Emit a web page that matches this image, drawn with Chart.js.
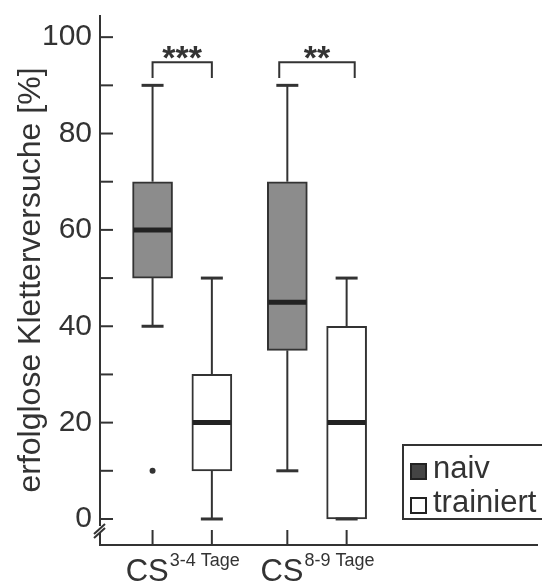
<!DOCTYPE html>
<html>
<head>
<meta charset="utf-8">
<script src="https://cdn.jsdelivr.net/npm/chart.js@4.4.1/dist/chart.umd.min.js"></script>
<style>
  body { margin: 0; background: #fff; }
  canvas { display: block; }
</style>
</head>
<body>
<canvas id="chart" width="542" height="585"></canvas>
<script>
// groups along the x axis
const groups = ['3-4 Tage', '8-9 Tage'];
const significance = ['***', '**'];

// naiv
const naivMin = [40, 10];
const naivQ1 = [50, 35];
const naivMedian = [60, 45];
const naivQ3 = [70, 70];
const naivMax = [90, 90];
const naivOutliers = [[10], []];

// trainiert
const trainiertMin = [0, 0];
const trainiertQ1 = [10, 0];
const trainiertMedian = [20, 20];
const trainiertQ3 = [30, 40];
const trainiertMax = [50, 50];
const trainiertOutliers = [[], []];

const yTickValues = [0, 10, 20, 30, 40, 50, 60, 70, 80, 90, 100];
const yTickLabels = ['0', '', '20', '', '40', '', '60', '', '80', '', '100'];

const INK = '#333';
const FONT = '"Liberation Sans", Arial, sans-serif';
const groupPos = [1, 2];
const boxOffset = 0.22;
const bracketHalf = [0.22, 0.28];

const series = [
  { name: 'naiv', fill: '#8c8c8c', legendFill: '#444', offset: -boxOffset,
    min: naivMin, q1: naivQ1, med: naivMedian, q3: naivQ3, max: naivMax, out: naivOutliers },
  { name: 'trainiert', fill: '#ffffff', legendFill: '#ffffff', offset: boxOffset,
    min: trainiertMin, q1: trainiertQ1, med: trainiertMedian, q3: trainiertQ3, max: trainiertMax, out: trainiertOutliers }
];

const datasets = series.map(s => ({
  type: 'bar',
  label: s.name,
  data: groups.map((g, i) => ({ x: groupPos[i] + s.offset, y: [s.q1[i], s.q3[i]] })),
  backgroundColor: s.fill,
  borderColor: INK,
  borderWidth: 2,
  borderSkipped: false,
  barThickness: 40,
  grouped: false,
  order: 2
}));

series.forEach(s => {
  const pts = [];
  s.out.forEach((list, i) => list.forEach(v => pts.push({ x: groupPos[i] + s.offset, y: v })));
  datasets.push({
    type: 'scatter',
    label: s.name + ' Ausreißer',
    data: pts,
    pointRadius: 3,
    backgroundColor: INK,
    borderWidth: 0,
    order: 1
  });
});

function line(ctx, x1, y1, x2, y2) {
  ctx.beginPath();
  ctx.moveTo(x1, y1);
  ctx.lineTo(x2, y2);
  ctx.stroke();
}

const boxExtras = {
  id: 'boxExtras',
  afterDatasetsDraw(chart) {
    const ctx = chart.ctx;
    const x = chart.scales.x, y = chart.scales.y;
    const area = chart.chartArea;
    ctx.save();
    ctx.strokeStyle = INK;
    ctx.lineCap = 'butt';

    // whiskers and medians
    series.forEach(s => {
      groups.forEach((g, i) => {
        const px = x.getPixelForValue(groupPos[i] + s.offset);
        ctx.lineWidth = 2;
        if (s.max[i] > s.q3[i]) line(ctx, px, y.getPixelForValue(s.q3[i]), px, y.getPixelForValue(s.max[i]));
        if (s.min[i] < s.q1[i]) line(ctx, px, y.getPixelForValue(s.q1[i]), px, y.getPixelForValue(s.min[i]));
        ctx.lineWidth = 3;
        line(ctx, px - 11, y.getPixelForValue(s.max[i]), px + 11, y.getPixelForValue(s.max[i]));
        line(ctx, px - 11, y.getPixelForValue(s.min[i]), px + 11, y.getPixelForValue(s.min[i]));
        ctx.lineWidth = 5;
        ctx.strokeStyle = '#222';
        line(ctx, px - 19, y.getPixelForValue(s.med[i]), px + 19, y.getPixelForValue(s.med[i]));
        ctx.strokeStyle = INK;
      });
    });

    // axes
    ctx.lineWidth = 2;
    const left = area.left, bottom = area.bottom;
    line(ctx, left, area.top, left, bottom - 19);
    line(ctx, left, bottom - 12, left, bottom);
    line(ctx, left - 1, bottom, area.right, bottom);
    line(ctx, left - 6, bottom - 7, left + 5, bottom - 17);
    line(ctx, left - 6, bottom - 11, left + 5, bottom - 21);
    yTickValues.forEach(v => {
      const py = y.getPixelForValue(v);
      line(ctx, left, py, left + 13, py);
    });
    series.forEach(s => groups.forEach((g, i) => {
      const px = x.getPixelForValue(groupPos[i] + s.offset);
      line(ctx, px, bottom, px, bottom - 15);
    }));

    // x labels: CS with superscript
    ctx.fillStyle = INK;
    ctx.textBaseline = 'alphabetic';
    groups.forEach((g, i) => {
      const cx = x.getPixelForValue(groupPos[i]);
      ctx.font = '31px ' + FONT;
      const w1 = ctx.measureText('CS').width;
      ctx.font = '18px ' + FONT;
      const w2 = ctx.measureText(g).width;
      const start = cx - (w1 + w2) / 2;
      ctx.font = '31px ' + FONT;
      ctx.textAlign = 'left';
      ctx.fillText('CS', start, bottom + 36);
      ctx.font = '18px ' + FONT;
      ctx.fillText(g, start + w1 + 1, bottom + 21);
    });

    // significance brackets
    ctx.lineWidth = 2;
    groups.forEach((g, i) => {
      const xl = x.getPixelForValue(groupPos[i] - bracketHalf[i]);
      const xr = x.getPixelForValue(groupPos[i] + bracketHalf[i]);
      const yb = y.getPixelForValue(94.8);
      const yl = y.getPixelForValue(91.5);
      ctx.beginPath();
      ctx.moveTo(xl, yl);
      ctx.lineTo(xl, yb);
      ctx.lineTo(xr, yb);
      ctx.lineTo(xr, yl);
      ctx.stroke();
      ctx.font = 'bold 34px ' + FONT;
      ctx.textAlign = 'center';
      ctx.fillText(significance[i], (xl + xr) / 2, yb + 7);
    });

    // legend
    ctx.fillStyle = '#fff';
    ctx.fillRect(403, 445, 150, 74);
    ctx.strokeRect(403, 445, 150, 74);
    ctx.textAlign = 'left';
    ctx.font = '31px ' + FONT;
    series.forEach((s, k) => {
      const top = 464 + k * 34;
      ctx.fillStyle = s.legendFill;
      ctx.fillRect(411, top, 15, 15);
      ctx.strokeStyle = '#222';
      ctx.strokeRect(411, top, 15, 15);
      ctx.fillStyle = INK;
      ctx.fillText(s.name, 433, top + 14);
    });
    ctx.restore();
  }
};

new Chart(document.getElementById('chart'), {
  type: 'bar',
  data: { datasets: datasets },
  options: {
    responsive: false,
    animation: false,
    devicePixelRatio: 1,
    layout: { padding: { top: 15, bottom: 40, right: 0, left: 0 } },
    plugins: { legend: { display: false }, tooltip: { enabled: false } },
    scales: {
      x: {
        type: 'linear',
        display: false,
        offset: false,
        min: 0.39,
        max: 3.64
      },
      y: {
        min: -5.4,
        max: 104.6,
        afterFit: s => { s.width = 100; s.paddingTop = 0; s.paddingBottom = 0; },
        afterBuildTicks: s => { s.ticks = yTickValues.map(v => ({ value: v })); },
        grid: { display: false, drawTicks: false },
        border: { display: false },
        ticks: {
          padding: 8,
          color: INK,
          font: { size: 30, family: FONT },
          callback: (v) => yTickLabels[yTickValues.indexOf(v)]
        },
        title: {
          display: true,
          text: 'erfolglose Kletterversuche [%]',
          color: INK,
          padding: { top: 12, bottom: 0 },
          font: { size: 32, family: FONT }
        }
      }
    }
  },
  plugins: [boxExtras]
});
</script>
</body>
</html>
